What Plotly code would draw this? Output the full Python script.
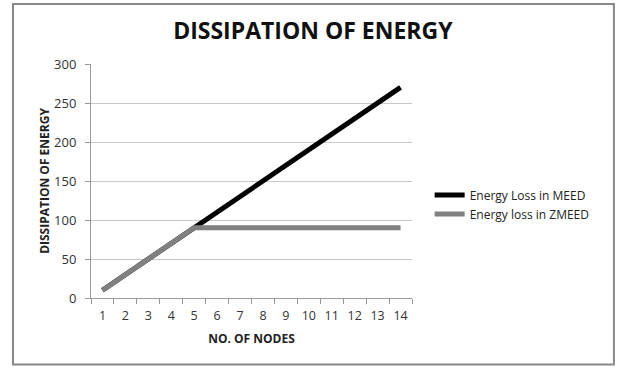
import plotly.graph_objects as go

nodes = [str(i) for i in range(1, 15)]
meed = [10, 30, 50, 70, 90, 110, 130, 150, 170, 190, 210, 230, 250, 270]
zmeed = [10, 30, 50, 70, 90, 90, 90, 90, 90, 90, 90, 90, 90, 90]
y_ticks = [0, 50, 100, 150, 200, 250, 300]

font_family = "Open Sans, Liberation Sans, sans-serif"

fig = go.Figure()
fig.add_trace(go.Scatter(x=nodes, y=meed, mode="lines", name="Energy Loss in MEED",
                         line=dict(color="#000000", width=5)))
fig.add_trace(go.Scatter(x=nodes, y=zmeed, mode="lines", name="Energy loss in ZMEED",
                         line=dict(color="#808080", width=5)))

fig.update_layout(
    width=617, height=367,
    margin=dict(l=91, r=205, t=64, b=69),
    paper_bgcolor="white", plot_bgcolor="white",
    font=dict(family=font_family, color="#444444", size=12),
    title=dict(text="<b>DISSIPATION OF ENERGY</b>", x=0.507, xanchor="center",
               y=0.915, yanchor="middle",
               font=dict(size=23, color="#111111", family=font_family)),
    legend=dict(x=1.055, y=0.40, xanchor="left", yanchor="middle",
                font=dict(size=12, color="#222222"), tracegroupgap=8,
                itemwidth=30, bgcolor="rgba(0,0,0,0)"),
    showlegend=True,
)
fig.update_xaxes(
    type="category", range=[-0.5, 13.5], showgrid=False, showline=True,
    linecolor="#999999", linewidth=1,
    ticks="outside", tickson="boundaries", ticklen=5, tickcolor="#999999",
    tickangle=0, tickfont=dict(size=12.5, color="#333333"), ticklabelstandoff=6,
    title=dict(text="<b>NO. OF NODES</b>", font=dict(size=12, color="#222222"), standoff=11),
)
fig.update_yaxes(
    range=[0, 300], tickvals=y_ticks, showgrid=True, gridcolor="#c8c8c8", gridwidth=1,
    showline=True, linecolor="#999999", linewidth=1, ticks="outside", ticklen=5,
    tickcolor="#999999", zeroline=False,
    tickfont=dict(size=13, color="#333333"), ticklabelstandoff=6,
    title=dict(text="<b>DISSIPATION OF ENERGY</b>", font=dict(size=12, color="#222222"), standoff=1),
)
fig.add_shape(type="rect", xref="paper", yref="paper",
              x0=-0.243, x1=1.629, y0=-0.284, y1=1.256,
              line=dict(color="#888888", width=2), fillcolor="rgba(0,0,0,0)")

fig.write_html("out.html", config={"displayModeBar": False},
               post_script="document.body.style.margin='0';")
